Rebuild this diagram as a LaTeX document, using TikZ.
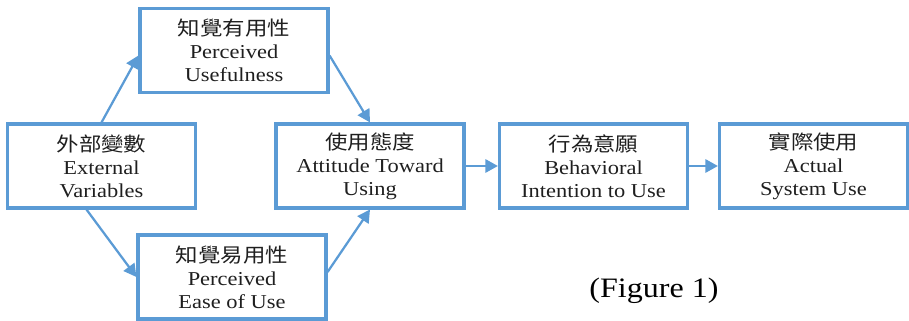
\documentclass[tikz,border=0pt]{standalone}
\usepackage{fontspec}
\setmainfont{Liberation Serif}[FakeStretch=1.14]
\newfontfamily\cjk{Noto Sans CJK TC}[FakeStretch=1.14]
\usetikzlibrary{arrows.meta}
\definecolor{tamblue}{HTML}{5B9BD5}
\tikzset{
    tambox/.style={draw=tamblue, line width=2.2pt, minimum width=4.7cm, minimum height=2.1cm,
        inner sep=0pt, align=center, text=black!88, font=\fontsize{14}{16.3}\selectfont},
    tamarrow/.style={draw=tamblue, line width=1.6pt, -{Triangle[length=9pt,width=9.5pt]}}
}
\begin{document}
\begin{tikzpicture}[x=0.025cm, y=-0.025cm]
        \useasboundingbox
            (0,0) rectangle (909,321);
        \node[tambox] (ext) at (101.5,166) {{\cjk 外部變數}\\External\\Variables};
        \node[tambox] (pu) at (234,50.5) {{\cjk 知覺有用性}\\Perceived\\Usefulness};
        \node[tambox] (peou) at (232,277) {{\cjk 知覺易用性}\\Perceived\\Ease of Use};
        \node[tambox] (att) at (370,166) {{\cjk 使用態度}\\Attitude Toward\\Using};
        \node[tambox] (bi) at (593.5,166) {{\cjk 行為意願}\\Behavioral\\Intention to Use};
        \node[tambox] (act) at (813.5,166) {{\cjk 實際使用}\\Actual\\System Use};
        \node (fig) at (654,291) {\fontsize{20}{24}\selectfont (Figure 1)};
        \draw 
            [tamarrow] (ext.north)--(pu.183);
        \draw 
            [tamarrow] (ext.251)--(peou.west);
        \draw 
            [tamarrow] (pu.-3)--(att.north);
        \draw 
            [tamarrow] (peou.3)--(att.south);
        \draw 
            [tamarrow] (att.east)--(bi.west);
        \draw 
            [tamarrow] (bi.east)--(act.west);
    \end{tikzpicture}
\end{document}
